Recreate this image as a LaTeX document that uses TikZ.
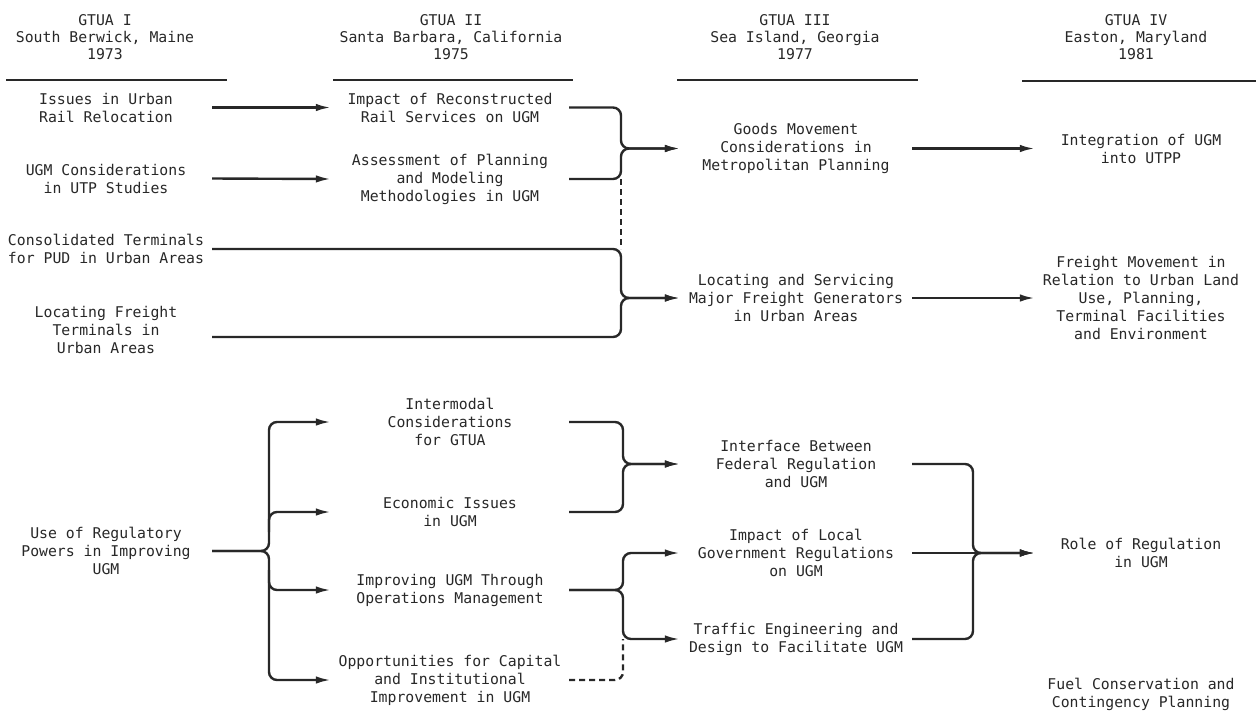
\documentclass[tikz,border=0pt]{standalone}
\usepackage{fontspec}
\newfontfamily\gtmono{DejaVu Sans Mono}
\usetikzlibrary{arrows.meta}
\definecolor{ink}{RGB}{40,40,40}
\begin{document}
\begin{tikzpicture}[x=1pt,y=-1pt,
  txt/.style={font=\gtmono\fontsize{14.8}{18}\selectfont, align=center, inner sep=0pt, text=ink},
  hdr/.style={font=\gtmono\fontsize{14.8}{17}\selectfont, align=center, inner sep=0pt, text=ink},
  colA/.style={txt, minimum width=212pt},
  colB/.style={txt, minimum width=238pt},
  colC/.style={txt, minimum width=232pt},
  colD/.style={txt, minimum width=212pt},
  conn/.style={line width=2.4pt, draw=ink, rounded corners=8pt},
  arr/.style={conn, -{Latex[length=15pt,width=7.5pt]}},
  dashconn/.style={conn, dash pattern=on 6pt off 4pt},
  hrule/.style={line width=2.8pt, draw=ink}]
\useasboundingbox[fill=white] (0,0) rectangle (1256,713);

% headers
\node[hdr] (h1) at (105,37) {GTUA I\\South Berwick, Maine\\1973};
\node[hdr] (h2) at (451,37) {GTUA II\\Santa Barbara, California\\1975};
\node[hdr] (h3) at (795,37) {GTUA III\\Sea Island, Georgia\\1977};
\node[hdr] (h4) at (1136,37) {GTUA IV\\Easton, Maryland\\1981};
\draw[hrule] (6,80) -- (227,80);
\draw[hrule] (333,80) -- (573,80);
\draw[hrule] (677,80) -- (918,80);
\draw[hrule] (1022,81) -- (1256,81);

% column 1
\node[colA] (a1) at (106,107.5) {Issues in Urban\\Rail Relocation};
\node[colA] (a2) at (106,178.5) {UGM Considerations\\in UTP Studies};
\node[colA] (a3) at (106,249) {Consolidated Terminals\\for PUD in Urban Areas};
\node[colA] (a4) at (106,330) {Locating Freight\\Terminals in\\Urban Areas};
\node[colA] (a5) at (106,551) {Use of Regulatory\\Powers in Improving\\UGM};

% column 2
\node[colB] (b1) at (450,107.5) {Impact of Reconstructed\\Rail Services on UGM};
\node[colB] (b2) at (450,179) {Assessment of Planning\\and Modeling\\Methodologies in UGM};
\node[colB] (b3) at (450,422) {Intermodal\\Considerations\\for GTUA};
\node[colB] (b4) at (450,512) {Economic Issues\\in UGM};
\node[colB] (b5) at (450,590) {Improving UGM Through\\Operations Management};
\node[colB] (b6) at (450,680) {Opportunities for Capital\\and Institutional\\Improvement in UGM};

% column 3
\node[colC] (c1) at (796,148.5) {Goods Movement\\Considerations in\\Metropolitan Planning};
\node[colC] (c2) at (796,298) {Locating and Servicing\\Major Freight Generators\\in Urban Areas};
\node[colC] (c3) at (796,464) {Interface Between\\Federal Regulation\\and UGM};
\node[colC] (c4) at (796,553) {Impact of Local\\Government Regulations\\on UGM};
\node[colC] (c5) at (796,639) {Traffic Engineering and\\Design to Facilitate UGM};

% column 4
\node[colD] (d1) at (1141,148.5) {Integration of UGM\\into UTPP};
\node[colD] (d2) at (1141,298) {Freight Movement in\\Relation to Urban Land\\Use, Planning,\\Terminal Facilities\\and Environment};
\node[colD] (d3) at (1141,553) {Role of Regulation\\in UGM};
\node[colD] (d4) at (1141,694) {Fuel Conservation and\\Contingency Planning};

% junction points
\coordinate (J1) at (621,148.5);
\coordinate (J2) at (621,298);
\coordinate (F) at (269,552);
\coordinate (J3) at (623,464);
\coordinate (J4) at (623,590);
\coordinate (J5) at (973,553);

% upper part
\draw[arr] (a1.east) -- (b1.west);
\draw[arr] (a2.east) -- (b2.west);
\draw[arr] (b1.east) -| (J1) -- (c1.west);
\draw[arr] (b2.east) -| (J1) -- (c1.west);
\draw[dashconn] (b2.east -| J1) -- (a3.east -| J1);
\draw[arr] (a3.east) -| (J2) -- (c2.west);
\draw[arr] ([yshift=-7pt]a4.east) -| (J2) -- (c2.west);
\draw[arr] (c1.east) -- (d1.west);
\draw[arr] (c2.east) -- (d2.west);

% lower part
\draw[arr] (a5.east) -| (F |- b3.west) -- (b3.west);
\draw[arr] (a5.east) -| (F |- b6.west) -- (b6.west);
\draw[arr] ([yshift=20pt]F) |- (b4.west);
\draw[arr] ([yshift=-18pt]F) |- (b5.west);
\draw[arr] (b3.east) -| (J3) -- (c3.west);
\draw[arr] (b4.east) -| (J3) -- (c3.west);
\draw[arr] (b5.east) -| (J4 |- c4.west) -- (c4.west);
\draw[arr] (b5.east) -| (J4 |- c5.west) -- (c5.west);
\draw[dashconn] (b6.east) -| (J4 |- c5.west);
\draw[arr] (c3.east) -| (J5) -- (d3.west);
\draw[arr] (c5.east) -| (J5) -- (d3.west);
\draw[arr] (c4.east) -- (d3.west);
\end{tikzpicture}
\end{document}
